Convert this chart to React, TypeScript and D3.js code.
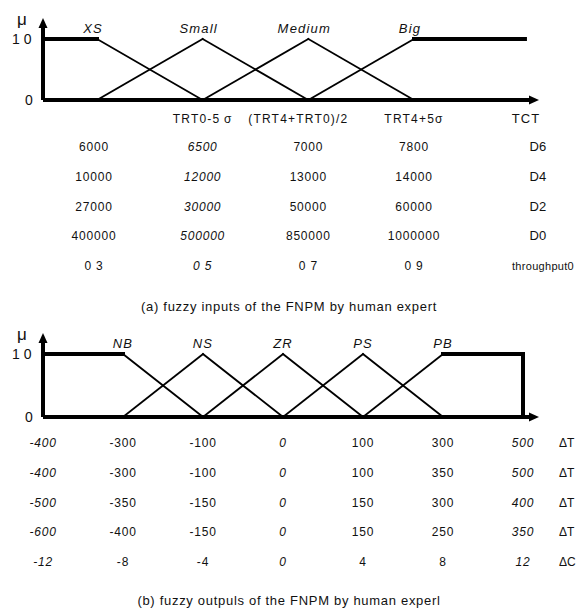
import * as d3 from "d3";

// fuzzy inputs (TCT), universe in column units
const inSets = [
  { name: "XS", pts: [[0.5, 1], [1, 1], [2, 0]], peak: 1 },
  { name: "Small", pts: [[1, 0], [2, 1], [3, 0]], peak: 2 },
  { name: "Medium", pts: [[2, 0], [3, 1], [4, 0]], peak: 3 },
  { name: "Big", pts: [[3, 0], [4, 1], [5.05, 1]], peak: 4 },
];
const inHeader = ["", "TRT0-5\u2009\u03c3", "(TRT4+TRT0)/2", "TRT4+5\u03c3", "TCT"];
const inRows = [
  ["6000", "6500", "7000", "7800", "D6"],
  ["10000", "12000", "13000", "14000", "D4"],
  ["27000", "30000", "50000", "60000", "D2"],
  ["400000", "500000", "850000", "1000000", "D0"],
  ["0 3", "0 5", "0 7", "0 9", "throughput0"],
];
const inItalicCol = [false, true, false, false, false];

// fuzzy outputs
const outSets = [
  { name: "NB", pts: [[0, 1], [1, 1], [2, 0]], peak: 1 },
  { name: "NS", pts: [[1, 0], [2, 1], [3, 0]], peak: 2 },
  { name: "ZR", pts: [[2, 0], [3, 1], [4, 0]], peak: 3 },
  { name: "PS", pts: [[3, 0], [4, 1], [5, 0]], peak: 4 },
  { name: "PB", pts: [[4, 0], [5, 1], [6, 1], [6, 0]], peak: 5 },
];
const outRows = [
  ["-400", "-300", "-100", "0", "100", "300", "500", "\u0394T"],
  ["-400", "-300", "-100", "0", "100", "350", "500", "\u0394T"],
  ["-500", "-350", "-150", "0", "150", "300", "400", "\u0394T"],
  ["-600", "-400", "-150", "0", "150", "250", "350", "\u0394T"],
  ["-12", "-8", "-4", "0", "4", "8", "12", "\u0394C"],
];
const outItalicCol = [true, false, false, true, false, false, true, false];

const captionA = "(a) fuzzy inputs of the FNPM by human expert";
const captionB = "(b) fuzzy outpuls of the FNPM by human experl";

const W = 577;
const H = 612;
const font = "'Liberation Sans', Arial, Helvetica, sans-serif";
const ink = "#111";

type FSet = { name: string; pts: number[][]; peak: number };

function Panel(props: {
  sets: FSet[];
  x: d3.ScaleLinear<number, number>;
  y: d3.ScaleLinear<number, number>;
  axisX: number;
  arrowX: number;
  arrowTop: number;
  labelDx: number;
}) {
  const { sets, x, y, axisX, arrowX, arrowTop, labelDx } = props;
  const base = y(0);
  const segs: { a: number[]; b: number[]; thick: boolean }[] = [];
  sets.forEach((s) => {
    for (let i = 1; i < s.pts.length; i++) {
      const a = s.pts[i - 1];
      const b = s.pts[i];
      const thick = (a[1] === 1 && b[1] === 1) || a[0] === b[0];
      segs.push({ a, b, thick });
    }
  });
  return (
    <g>
      {segs.map((s, i) => (
        <line
          key={i}
          x1={x(s.a[0])}
          y1={y(s.a[1])}
          x2={x(s.b[0])}
          y2={y(s.b[1])}
          stroke="#000"
          strokeWidth={s.thick ? 4 : 1.8}
          strokeLinecap="square"
        />
      ))}
      {/* axes */}
      <line x1={axisX} y1={base} x2={axisX} y2={arrowTop + 8} stroke="#000" strokeWidth={4} />
      <line x1={axisX} y1={base} x2={arrowX - 8} y2={base} stroke="#000" strokeWidth={4} />
      <polygon
        points={`${axisX},${arrowTop} ${axisX - 4.5},${arrowTop + 10} ${axisX + 4.5},${arrowTop + 10}`}
        fill="#000"
      />
      <polygon
        points={`${arrowX},${base} ${arrowX - 10},${base - 4.5} ${arrowX - 10},${base + 4.5}`}
        fill="#000"
      />
      <text x={17} y={arrowTop + 7} fontSize={17} fontFamily={font} fill={ink}>
        {"\u03bc"}
      </text>
      <text x={12} y={y(1) + 5} fontSize={14} fontFamily={font} fill={ink}>
        1 0
      </text>
      <text x={25} y={base + 5} fontSize={14} fontFamily={font} fill={ink}>
        0
      </text>
      {sets.map((s) => (
        <text
          key={s.name}
          x={x(s.peak) + labelDx}
          y={y(1) - 6}
          textAnchor="middle"
          fontSize={13}
          letterSpacing={1.2}
          fontStyle="italic"
          fontFamily={font}
          fill={ink}
        >
          {s.name}
        </text>
      ))}
    </g>
  );
}

export default function App() {
  const xIn = d3.scaleLinear().domain([1, 4]).range([97, 414]);
  const yIn = d3.scaleLinear().domain([0, 1]).range([100, 39]);
  const xOut = d3.scaleLinear().domain([0, 6]).range([43, 523]);
  const yOut = d3.scaleLinear().domain([0, 1]).range([417, 354]);

  const inColX = (c: number) => (c < 4 ? xIn(c + 1) + (c === 0 ? -3 : 0) : 538);
  const outColX = (c: number) => (c < 7 ? xOut(c) : 559);

  return (
    <svg
      width={W}
      height={H}
      style={{ position: "absolute", left: 0, top: 0, background: "#fff" }}
    >
      <rect width={W} height={H} fill="#fff" />
      <Panel sets={inSets} x={xIn} y={yIn} axisX={43} arrowX={539} arrowTop={18} labelDx={-4} />
      {inHeader.map((t, c) =>
        t ? (
          <text
            key={c}
            x={c === 4 ? 526 : inColX(c) - (c === 2 ? 10 : 0)}
            y={123}
            textAnchor="middle"
            fontSize={c === 4 ? 13 : 12}
            letterSpacing={c === 4 ? 1 : 1.2}
            fontFamily={font}
            fill={ink}
          >
            {t}
          </text>
        ) : null
      )}
      {inRows.map((row, r) =>
        row.map((t, c) => (
          <text
            key={r + "-" + c}
            x={c === 4 && r === 4 ? 543 : inColX(c)}
            y={151 + r * 29.8}
            textAnchor="middle"
            fontSize={c === 4 && r < 4 ? 13 : c === 4 ? 11 : 12}
            letterSpacing={c === 4 ? 0.3 : 0.8}
            fontStyle={inItalicCol[c] ? "italic" : "normal"}
            fontFamily={font}
            fill={ink}
          >
            {t}
          </text>
        ))
      )}
      <text x={289} y={311} textAnchor="middle" fontSize={13} letterSpacing={0.7} fontFamily={font} fill={ink}>
        {captionA}
      </text>

      <Panel sets={outSets} x={xOut} y={yOut} axisX={43} arrowX={539} arrowTop={333} labelDx={0} />
      {outRows.map((row, r) =>
        row.map((t, c) => (
          <text
            key={r + "-" + c}
            x={outColX(c)}
            y={447 + r * 29.8}
            textAnchor={c === 7 ? "start" : "middle"}
            fontSize={12}
            letterSpacing={c === 7 ? 0 : 0.8}
            fontStyle={outItalicCol[c] ? "italic" : "normal"}
            fontFamily={font}
            fill={ink}
          >
            {t}
          </text>
        ))
      )}
      <text x={289} y={605} textAnchor="middle" fontSize={13} letterSpacing={0.7} fontFamily={font} fill={ink}>
        {captionB}
      </text>
    </svg>
  );
}
